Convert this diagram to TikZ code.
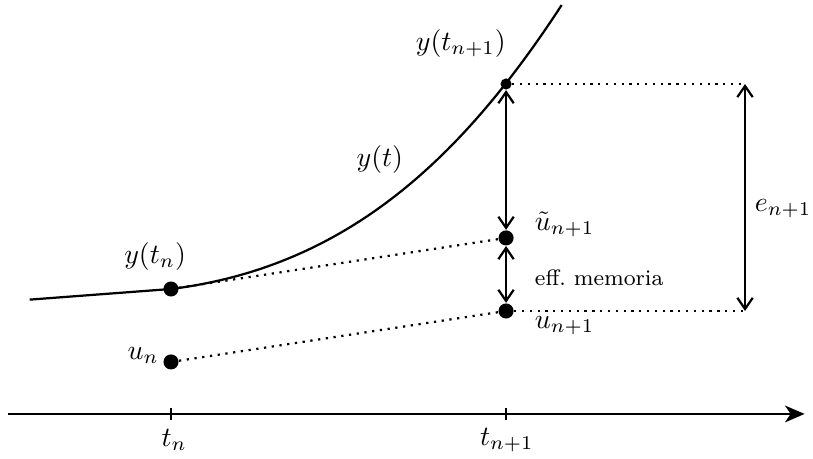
\documentclass[tikz,border=0pt]{standalone}
\usepackage{amsmath, amssymb}
\usetikzlibrary{arrows.meta,calc}

\begin{document}
\begin{tikzpicture}[>={Straight Barb[length=4pt,width=5.5pt]},
    punto/.style={circle, fill, inner sep=0pt, minimum size=5.4pt},
    puntino/.style={circle, fill, inner sep=0pt, minimum size=4pt},
    dotline/.style={dotted, thick}]
    \useasboundingbox (-2.154,-0.567) rectangle (8.086,5.214);

    % asse dei tempi
    \coordinate (axl) at (-2.05,0);
    \coordinate (axr) at (7.98,0);
    \draw[thick, -{Stealth[length=7pt,width=6pt,inset=2pt]}] (axl) -- (axr);
    \draw[thick] (0,0.08) -- (0,-0.08);
    \draw[thick] (4.22,0.08) -- (4.22,-0.08);
    \node (tn) at (0.04,-0.33) {\(t_n\)};
    \node (tn1) at (4.23,-0.33) {\(t_{n+1}\)};

    % soluzione esatta
    \draw[thick] (-1.78,1.44) -- (0,1.574)
        .. controls (2.2,1.85) and (3.65,3.2) .. (4.92,5.15);

    \node[punto] (ytn) at (0,1.574) {};
    \node[punto] (un) at (0,0.655) {};
    \node[punto] (ut) at (4.22,2.217) {};
    \node[punto] (un1) at (4.22,1.297) {};
    \node[puntino] (ytn1) at (4.22,4.156) {};
    \coordinate (etop) at (7.23,4.156);
    \coordinate (ebot) at (7.23,1.297);

    \draw[dotline] (ytn) -- (ut);
    \draw[dotline] (un) -- (un1);
    \draw[dotline] (ytn1) -- (etop);
    \draw[dotline] (un1) -- (ebot);

    \draw[<->, thick] (ytn1) -- (ut);
    \draw[<->, thick] (ut) -- (un1);
    \draw[<->, thick] (etop) -- (ebot);

    % etichette
    \node (lytn1) at (3.65,4.67) {\(y(t_{n+1})\)};
    \node (lyt) at (2.63,3.20) {\(y(t)\)};
    \node (lytn) at (-0.20,1.98) {\(y(t_n)\)};
    \node (lun) at (-0.35,0.74) {\(u_n\)};
    \node[anchor=west] (lut) at (4.46,2.39) {\(\tilde{u}_{n+1}\)};
    \node[anchor=west] (leff) at (4.46,1.71) {\footnotesize eff.\ memoria};
    \node[anchor=west] (lun1) at (4.46,1.11) {\(u_{n+1}\)};
    \node (len1) at (7.71,2.59) {\(e_{n+1}\)};
\end{tikzpicture}
\end{document}
